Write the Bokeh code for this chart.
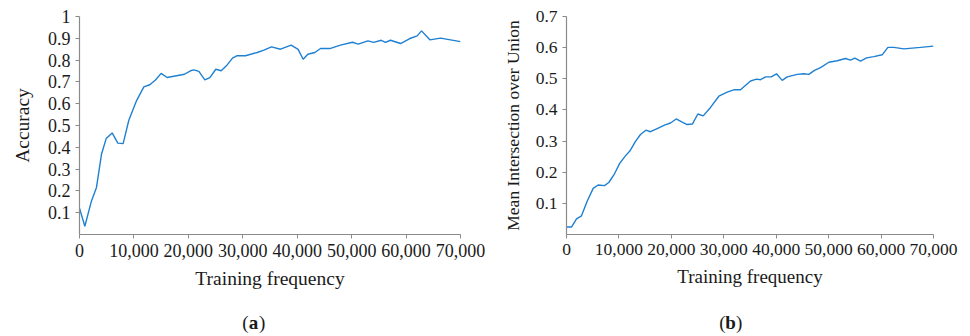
from bokeh.plotting import figure
from bokeh.layouts import row, column
from bokeh.models import Range1d, FixedTicker, NumeralTickFormatter
from bokeh.core.properties import value
from bokeh.embed import file_html
from bokeh.resources import INLINE

# (a) accuracy vs. training frequency
acc_steps = [0, 980, 2200, 3120, 4040, 4900, 6000, 7040, 8020, 9060, 10470, 11820,
             12920, 13960, 15000, 16100, 17330, 19290, 20390, 21000, 21930, 23030,
             23950, 25050, 26030, 27130, 28110, 28970, 30500, 32640, 33870, 35280,
             36930, 38890, 40170, 41090, 41950, 43240, 44280, 45990, 47950, 50160,
             51200, 52980, 54080, 55430, 56220, 57140, 58980, 60690, 62040, 62840,
             64370, 66330, 70000]
accuracy = [0.121, 0.038, 0.154, 0.216, 0.368, 0.440, 0.466, 0.419, 0.417, 0.524,
            0.613, 0.677, 0.687, 0.709, 0.739, 0.720, 0.726, 0.735, 0.751, 0.755,
            0.748, 0.709, 0.720, 0.758, 0.751, 0.778, 0.809, 0.820, 0.820, 0.835,
            0.846, 0.861, 0.850, 0.869, 0.849, 0.804, 0.827, 0.835, 0.853, 0.853,
            0.869, 0.882, 0.873, 0.888, 0.881, 0.891, 0.881, 0.891, 0.876, 0.899,
            0.911, 0.934, 0.893, 0.901, 0.885]

# (b) mean IoU vs. training frequency
miou_steps = [0, 950, 1910, 2860, 3940, 5090, 6040, 7250, 8070, 9160, 10170, 11320,
              12080, 13160, 14110, 15130, 16020, 17290, 18690, 19840, 20920, 22060,
              23020, 24030, 25050, 26070, 27470, 29060, 30650, 32040, 33190, 35100,
              36240, 37010, 37960, 39040, 40060, 41140, 42090, 44000, 45270, 46220,
              47300, 48450, 50040, 51630, 53220, 54170, 55000, 56080, 57230, 58630,
              60220, 61300, 62440, 64350, 67530, 70000]
miou = [0.024, 0.024, 0.050, 0.060, 0.107, 0.148, 0.159, 0.157, 0.167, 0.195, 0.229,
        0.254, 0.268, 0.299, 0.321, 0.335, 0.330, 0.340, 0.351, 0.358, 0.371, 0.361,
        0.353, 0.355, 0.387, 0.381, 0.408, 0.444, 0.457, 0.465, 0.465, 0.493, 0.499,
        0.497, 0.506, 0.506, 0.516, 0.495, 0.506, 0.514, 0.516, 0.514, 0.527, 0.536,
        0.553, 0.558, 0.565, 0.560, 0.566, 0.557, 0.567, 0.571, 0.577, 0.601, 0.601,
        0.596, 0.601, 0.605]

x_ticks = [0, 10000, 20000, 30000, 40000, 50000, 60000, 70000]
acc_ticks = [0.1, 0.2, 0.3, 0.4, 0.5, 0.6, 0.7, 0.8, 0.9, 1.0]
miou_ticks = [0.1, 0.2, 0.3, 0.4, 0.5, 0.6, 0.7]

FONT = "Liberation Serif"
TEXT = "#1a1a1a"
AXIS = "#8a8a8a"
LINE = "#1f80d2"
PANEL_W = 485
PLOT_H = 300
CAPTION_H = 36


def panel(xs, ys, y_max, y_ticks, y_title,
          border_left, border_right, border_top, border_bottom,
          tick_size, xtitle_size, ytitle_size, ytitle_standoff):
    p = figure(width=PANEL_W, height=PLOT_H, output_backend="svg", toolbar_location=None,
               x_range=Range1d(0, 70000), y_range=Range1d(0, y_max),
               min_border_left=border_left, min_border_right=border_right,
               min_border_top=border_top, min_border_bottom=border_bottom)
    p.outline_line_color = None
    p.grid.visible = False
    p.background_fill_color = "white"
    p.border_fill_color = "white"

    p.line(xs, ys, line_color=LINE, line_width=1.4)

    xa = p.xaxis[0]
    xa.ticker = FixedTicker(ticks=x_ticks)
    xa.formatter = NumeralTickFormatter(format="0,0")
    xa.axis_label = "Training frequency"
    xa.axis_label_standoff = 8

    ya = p.yaxis[0]
    ya.ticker = FixedTicker(ticks=y_ticks)
    ya.major_label_overrides = {t: ("1" if t == 1.0 else f"{t:.1f}") for t in y_ticks}
    ya.axis_label = y_title
    ya.axis_label_standoff = ytitle_standoff

    for ax in (xa, ya):
        ax.axis_line_color = AXIS
        ax.axis_line_width = 1.2
        ax.major_tick_line_color = AXIS
        ax.major_tick_in = 0
        ax.major_tick_out = 4
        ax.minor_tick_line_color = None
        ax.major_label_text_font = FONT
        ax.major_label_text_font_size = tick_size
        ax.major_label_text_color = TEXT
        ax.major_label_standoff = 5
        ax.axis_label_text_font = FONT
        ax.axis_label_text_font_style = "normal"
        ax.axis_label_text_color = TEXT
    xa.axis_label_text_font_size = xtitle_size
    ya.axis_label_text_font_size = ytitle_size
    return p


def caption(letter, cx):
    """Strip under a panel holding its '(x)' caption with a bold letter."""
    c = figure(width=PANEL_W, height=CAPTION_H, output_backend="svg",
               toolbar_location=None, x_range=Range1d(0, PANEL_W),
               y_range=Range1d(0, CAPTION_H), min_border=0)
    c.axis.visible = False
    c.grid.visible = False
    c.outline_line_color = None
    c.border_fill_color = "white"
    style = dict(y=[14], text_font=value(FONT), text_font_size="19px",
                 text_color=TEXT, text_baseline="middle")
    c.text(x=[cx - 5], text=["("], text_align="right", **style)
    c.text(x=[cx], text=[letter], text_align="center", text_font_style="bold", **style)
    c.text(x=[cx + 5.5], text=[")"], text_align="left", **style)
    return c


pa = panel(acc_steps, accuracy, 1.0, acc_ticks, "Accuracy",
           79, 25, 16, 66, "18px", "19.5px", "19.5px", 12)
pb = panel(miou_steps, miou, 0.7, miou_ticks, "Mean Intersection over Union",
           81, 37, 13, 62, "17.5px", "19px", "17.5px", 10)

layout = column(row(pa, pb), row(caption("a", 253), caption("b", 245)))
open("out.html", "w").write(file_html(layout, INLINE))
